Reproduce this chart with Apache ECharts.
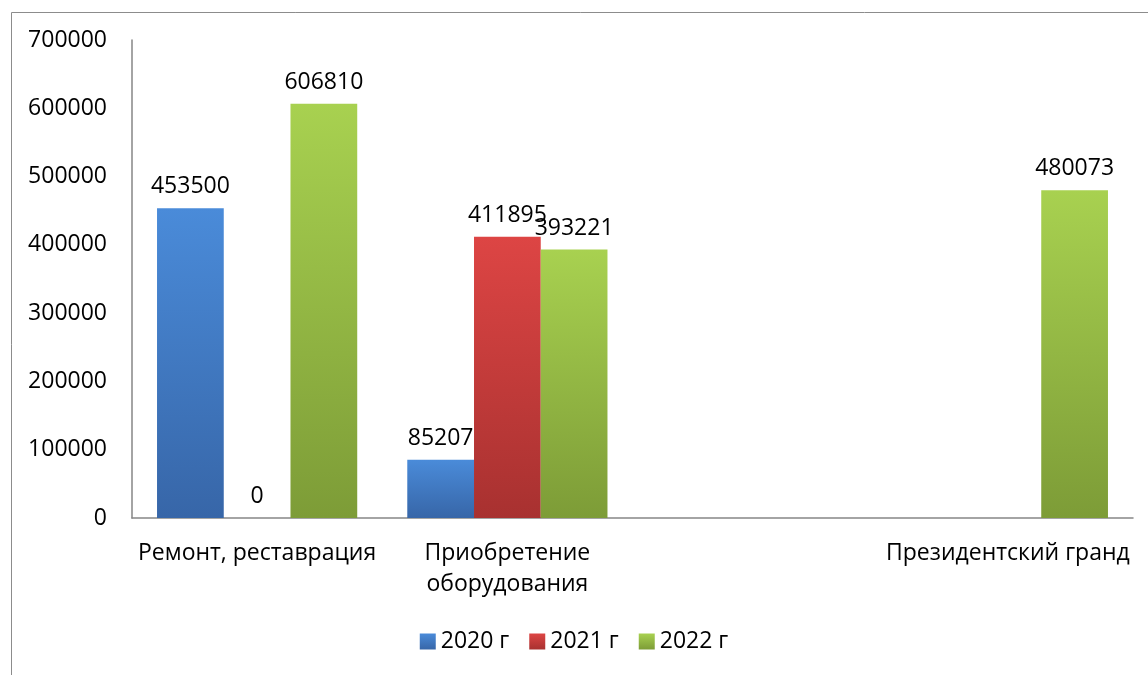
<!DOCTYPE html>
<html>
<head>
<meta charset="utf-8">
<script src="https://cdn.jsdelivr.net/npm/echarts@6/dist/echarts.min.js"></script>
<style>html,body{margin:0;padding:0;background:#fff}#c{width:1148px;height:675px}</style>
</head>
<body>
<div id="c"></div>
<script>
const categories = ['Ремонт, реставрация', 'Приобретение\nоборудования', '', 'Президентский гранд'];
const seriesNames = ['2020 г', '2021 г', '2022 г'];
const values2020 = [453500, 85207, null, null];
const values2021 = [0, 411895, null, null];
const values2022 = [606810, 393221, null, 480073];
const yTicks = { min: 0, max: 700000, interval: 100000 };

const FONT = 'Open Sans';
function grad(c1, c2) {
  return new echarts.graphic.LinearGradient(0, 0, 0, 1, [
    { offset: 0, color: c1 }, { offset: 1, color: c2 }
  ]);
}
const styles = [
  { color: grad('#4a8bd9', '#3766a8') },
  { color: grad('#dd4544', '#a83130') },
  { color: grad('#a8d150', '#7d9c37') }
];
const dataSets = [values2020, values2021, values2022];

const chart = echarts.init(document.getElementById('c'));
chart.setOption({
  backgroundColor: '#fff',
  animation: false,
  graphic: [{
    type: 'rect', left: 9, top: 10,
    shape: { width: 1200, height: 700 },
    style: { fill: 'none', stroke: '#8c8c8c', lineWidth: 1 },
    silent: true
  }],
  grid: { left: 132, right: 15, top: 40, bottom: 157 },
  legend: {
    bottom: 17, left: 'center',
    itemWidth: 16, itemHeight: 16, itemGap: 20,
    icon: 'rect',
    textStyle: { fontFamily: FONT, fontSize: 23, color: '#000' },
    data: seriesNames
  },
  xAxis: {
    type: 'category',
    data: categories,
    axisLine: { lineStyle: { color: '#868686', width: 1.5 } },
    axisTick: { show: false },
    axisLabel: { fontFamily: FONT, fontSize: 23, color: '#000', margin: 20, lineHeight: 31, interval: 0 }
  },
  yAxis: {
    type: 'value',
    min: yTicks.min, max: yTicks.max, interval: yTicks.interval,
    splitLine: { show: false },
    axisLine: { show: true, lineStyle: { color: '#868686', width: 1.5 } },
    axisTick: { show: false },
    axisLabel: { fontFamily: FONT, fontSize: 23, color: '#000', margin: 25, formatter: v => String(v) }
  },
  series: seriesNames.map((n, i) => ({
    name: n,
    type: 'bar',
    data: dataSets[i],
    barGap: '0%',
    barCategoryGap: '20%',
    itemStyle: { color: styles[i].color, borderWidth: 0 },
    label: {
      show: true, position: 'top', distance: 10,
      fontFamily: FONT, fontSize: 23, color: '#000'
    }
  }))
});
</script>
</body>
</html>
